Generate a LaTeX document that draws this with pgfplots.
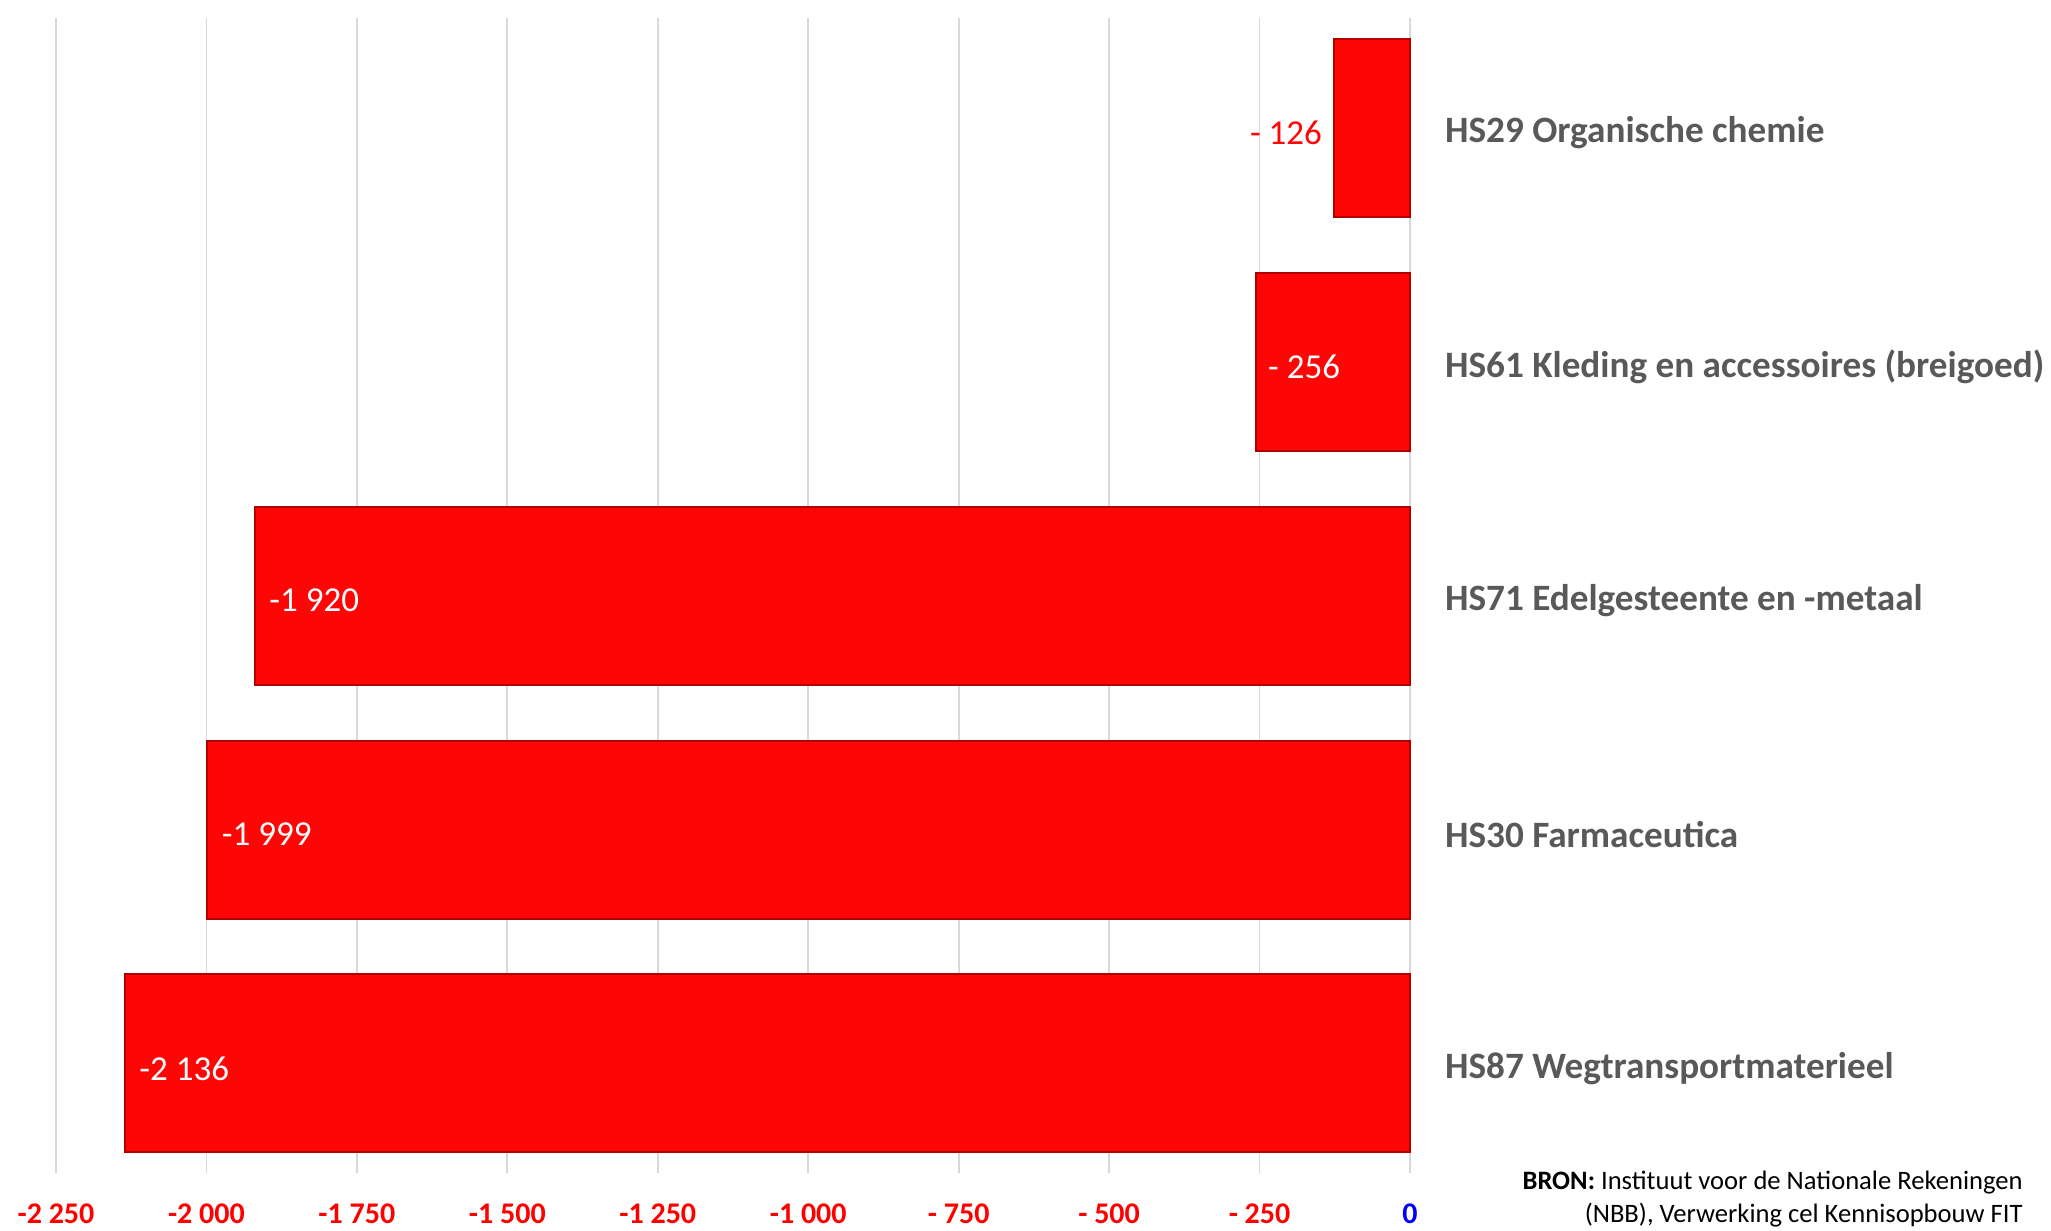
\documentclass[border=0pt]{standalone}
\usepackage{fontspec}
\setmainfont{Carlito}
\usepackage{pgfplots}
\pgfplotsset{compat=1.18}
\definecolor{barred}{HTML}{FF0606}
\definecolor{bardark}{HTML}{B00000}
\definecolor{catgray}{HTML}{595959}
\definecolor{gridgray}{HTML}{D9D9D9}
\definecolor{tickblue}{HTML}{0000FF}
\begin{document}
\begin{tikzpicture}
\begin{axis}[
  at={(28pt,28.8pt)}, anchor=south west,
  scale only axis, width=677pt, height=577.7pt,
  xmin=-2250, xmax=0, ymin=-0.47, ymax=4.47,
  xbar, bar width=89pt, bar shift=0pt,
  axis line style={draw=none},
  major tick length=0pt,
  /pgf/number format/assume math mode=true,
  xtick={-2250,-2000,-1750,-1500,-1250,-1000,-750,-500,-250,0},
  xticklabels={
    \textcolor{red}{-2 250},\textcolor{red}{-2 000},\textcolor{red}{-1 750},
    \textcolor{red}{-1 500},\textcolor{red}{-1 250},\textcolor{red}{-1 000},
    \textcolor{red}{- 750},\textcolor{red}{- 500},\textcolor{red}{- 250},
    \textcolor{tickblue}{0}},
  xticklabel style={font=\fontsize{15}{17}\selectfont\bfseries, anchor=north, yshift=-11.5pt},
  xmajorgrids, grid style={gridgray, line width=0.9pt},
  ytick={0,1,2,3,4},
  yticklabels={HS87 Wegtransportmaterieel, HS30 Farmaceutica, HS71 Edelgesteente en -metaal, HS61 Kleding en accessoires (breigoed), HS29 Organische chemie},
  yticklabel pos=right,
  yticklabel style={font=\fontsize{18.6}{21}\selectfont\bfseries, text=catgray, anchor=west, xshift=14pt, yshift=-2.5pt},
  clip=false,
  point meta=explicit symbolic,
  nodes near coords,
  nodes near coords style={font=\fontsize{17.5}{19}\selectfont, text=white, yshift=-2.5pt},
]
\addplot[fill=barred, draw=bardark, line width=1pt, every node near coord/.append style={anchor=east, text=barred, xshift=-2.3pt}]
  coordinates {(-126,4) [{- 126}]};
\addplot[fill=barred, draw=bardark, line width=1pt, every node near coord/.append style={anchor=west, xshift=2.3pt}]
  coordinates {(-256,3) [{- 256}]};
\addplot[fill=barred, draw=bardark, line width=1pt, every node near coord/.append style={anchor=west, xshift=3.6pt}]
  coordinates {(-1920,2) [{-1 920}]};
\addplot[fill=barred, draw=bardark, line width=1pt, every node near coord/.append style={anchor=west, xshift=3.6pt}]
  coordinates {(-1999,1) [{-1 999}]};
\addplot[fill=barred, draw=bardark, line width=1pt, every node near coord/.append style={anchor=west, xshift=3.6pt}]
  coordinates {(-2136,0) [{-2 136}]};
\end{axis}
\node[anchor=north east, align=right, font=\fontsize{13.3}{16.5}\selectfont, inner sep=0pt] at (1011.5pt,30pt)
  {\textbf{BRON:} Instituut voor de Nationale Rekeningen\\(NBB), Verwerking cel Kennisopbouw FIT};
\pgfresetboundingbox
\useasboundingbox (0,0) rectangle (1025.5pt,615.5pt);
\end{tikzpicture}
\end{document}
